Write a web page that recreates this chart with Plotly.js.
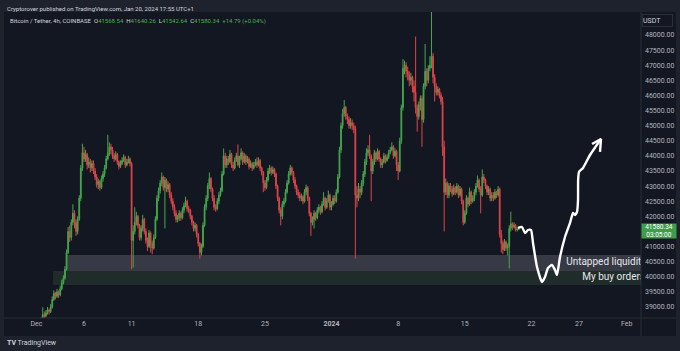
<!DOCTYPE html>
<html>
<head>
<meta charset="utf-8">
<script src="https://cdn.plot.ly/plotly-3.0.1.min.js"></script>
<style>
html,body{margin:0;padding:0;background:#1e222d;}
#chart{width:680px;height:351px;}
</style>
</head>
<body>
<div id="chart"></div>
<script>
// ---- DATA: BTC/USDT 4h candles, Dec 1 2023 00:00 -> Jan 20 2024 16:00 ----
const firstBar = Date.UTC(2023, 11, 1, 0, 0);
const barHours = 4;

const opens = [
37720,37800,37900,38200,38500,38750,
38700,38800,38900,38850,39000,39250,
39450,39350,39500,39400,39600,39800,
39950,40250,40800,41500,41300,41800,
42100,41800,41500,41900,42600,43600,
44100,43900,44050,43700,43800,43600,
43750,43500,43300,43050,43150,42950,
43250,43400,43600,43900,44100,44300,
44200,44000,43900,44050,43800,43650,
43750,43850,43950,43700,43800,43900,
43750,41200,41500,41800,42000,41700,
41300,41600,41900,41500,41200,41000,
41450,41100,40950,41300,41900,42600,
42850,43100,43300,42950,43200,42900,
43050,42700,42500,42300,42100,41900,
41950,42100,41950,42200,42350,42500,
42250,42200,42000,41800,41600,41700,
41400,41100,40800,41000,41700,42300,
42600,43000,43250,42900,42600,42300,
42250,42500,42700,42850,43400,44000,
43700,43900,43800,44050,43700,43600,
43850,44000,43700,43900,44100,43800,
44000,43800,43900,43650,43750,43600,
43700,43800,43700,43850,43600,43450,
43100,42950,43200,43500,43600,43450,
43550,43400,43000,42600,42200,42000,
42400,42500,42800,43100,43400,43600,
43450,43200,43000,42800,42700,42600,
42650,42500,42800,42950,42600,42100,
41800,41900,42100,41950,42200,42300,
42150,42400,42600,42300,42500,42700,
42300,42400,42600,42500,42800,43300,
44200,45000,45400,45600,45300,45200,
45000,45100,45000,44900,42700,42600,
42900,42800,43100,43400,43800,44100,
44200,44000,43500,43800,44100,43900,
44150,43900,43700,43800,44000,43850,
43950,44100,44200,44300,44000,44150,
43700,43500,44500,45600,46900,47000,
46800,46700,46500,46600,46300,46100,
45600,45300,45700,45900,45200,46300,
46800,46500,46900,47000,47300,46600,
46300,46100,46200,46000,45800,44300,
42800,43100,42700,43000,42900,42750,
42950,42800,43000,42700,42900,42500,
41800,42100,42600,42400,42800,42500,
42600,42800,43000,43200,42900,42700,
43300,43200,43000,42800,42900,42600,
42700,42600,42800,42700,42900,41400,
41100,40900,41150,40950,41000,41600,
41750,41650,41700,41550,41568.54
];

const highs = [
37900,38050,38300,38650,38990,38850,
38900,39000,38950,39100,39350,39550,
39500,39600,39550,39700,39900,40050,
40350,40900,41650,41700,41900,42400,
42200,41900,42000,42700,43700,44400,
44300,44200,44100,43950,43900,43850,
43850,43600,43400,43250,43200,43350,
43500,43700,44000,44700,44450,44400,
44300,44100,44150,44100,43850,43850,
43950,44050,44000,43900,44000,43950,
43800,41700,42300,42150,42050,41750,
41700,42050,41950,41600,41300,41550,
41500,41200,41400,42000,42700,42950,
43200,43450,43350,43300,43250,43150,
43100,42800,42600,42400,42200,42050,
42200,42150,42300,42450,42650,42550,
42350,42250,42050,41850,41800,41750,
41450,41150,41100,41800,42400,42700,
43100,43450,43300,42950,42700,42400,
42600,42800,42950,43500,44250,44100,
44000,44000,44200,44100,43800,43950,
44100,44380,44000,44250,44150,44100,
44050,44000,43950,43850,43800,43800,
43900,43950,43950,43900,43650,43500,
43200,43300,43600,43700,43650,43650,
43600,43450,43050,42650,42300,42500,
42600,42900,43200,43500,43700,43650,
43500,43300,43050,42900,42800,42750,
42700,42900,43050,43000,42650,42150,
42000,42200,42150,42300,42400,42350,
42500,42800,42650,42600,42850,42750,
42500,42700,42700,42900,43400,44300,
45100,45550,45850,45650,45400,45300,
45250,45200,45100,45000,43000,43100,
43000,43200,43500,43900,44250,44350,
44700,44050,43900,44200,44150,44250,
44200,43950,43900,44100,44050,44050,
44200,44300,44450,44350,44250,44200,
43800,44600,45700,47200,47150,47100,
46950,46800,46750,46650,46500,47950,
45700,45800,46000,46000,46400,47700,
46900,47000,47300,49000,47400,46700,
46400,46300,46250,46100,45950,44500,
43250,43150,43100,43100,43000,43050,
43000,43100,43050,43000,42950,42550,
42200,42700,42650,42950,42850,42700,
42900,43100,43350,43250,43000,43550,
43400,43250,43050,43000,42950,42800,
42800,42900,42850,43000,42950,41550,
41200,41250,41200,41100,41700,42150,
41800,41800,41750,41650,41640.26
];

const lows = [
37650,37750,37850,38150,38450,38600,
38650,38750,38750,38800,38950,39200,
39250,39300,39300,39350,39550,39750,
39900,40200,40750,41150,41200,41700,
41600,41350,41400,41850,42500,43500,
43800,43800,43550,43600,43450,43500,
43400,43200,42950,42900,42850,42900,
43150,43300,43550,43850,44000,44050,
43900,43800,43850,43700,43550,43600,
43700,43800,43600,43650,43750,43650,
40250,40300,41400,41700,41600,41200,
41200,41500,41400,41100,40850,40950,
40800,40750,40900,41250,41850,42500,
42750,43000,42850,41600,42800,42800,
42600,42400,42200,42000,41800,41800,
41850,41850,41900,42100,42300,42150,
42100,41900,41700,41500,41500,41300,
41000,40600,40700,40950,41650,42200,
42500,42900,42800,42500,42200,42150,
42200,42400,42650,42800,43350,43600,
43600,43700,43750,43600,43500,43550,
43800,43650,43600,43850,43700,43750,
43700,43750,43550,43600,43500,43550,
43650,43600,43650,43500,43350,42800,
42850,42900,43150,43400,43350,43400,
43300,42900,42500,42100,41700,41900,
42300,42450,42750,43050,43350,43350,
43100,42900,42700,42600,42500,42500,
42400,42450,42700,42500,42000,41350,
41700,41600,41850,41900,42100,42050,
42100,42350,42200,42250,42450,42200,
42200,42350,42400,42450,42750,43250,
44100,44900,45300,45200,45050,44900,
44900,44850,44750,40600,42300,42500,
42600,42700,43000,43300,43700,44000,
43900,42500,43400,43700,43800,43850,
43800,43600,43600,43750,43750,43800,
43900,44050,44150,43900,43950,43500,
43200,43450,44400,45500,46700,46600,
46500,46300,46350,46100,45800,45400,
44800,45200,45500,44300,45100,46200,
46300,46400,46800,46900,46400,45800,
46000,46000,45900,45700,44000,41500,
42700,42600,42600,42800,42650,42700,
42700,42750,42600,42650,42400,41700,
41750,42050,42300,42350,42400,42450,
42500,42700,42950,42800,42100,42650,
43100,42900,42700,42700,42500,42500,
42500,42550,42600,42650,41300,40800,
40750,40850,40850,40700,40280,41500,
41550,41600,41500,41500,41542.64
];

const closes = [
37800,37900,38200,38500,38750,38700,
38800,38900,38850,39000,39250,39450,
39350,39500,39400,39600,39800,39950,
40250,40800,41500,41300,41800,42100,
41800,41500,41900,42600,43600,44100,
43900,44050,43700,43800,43600,43750,
43500,43300,43050,43150,42950,43250,
43400,43600,43900,44100,44300,44200,
44000,43900,44050,43800,43650,43750,
43850,43950,43700,43800,43900,43750,
41200,41500,41800,42000,41700,41300,
41600,41900,41500,41200,41000,41450,
41100,40950,41300,41900,42600,42850,
43100,43300,42950,43200,42900,43050,
42700,42500,42300,42100,41900,41950,
42100,41950,42200,42350,42500,42250,
42200,42000,41800,41600,41700,41400,
41100,40800,41000,41700,42300,42600,
43000,43250,42900,42600,42300,42250,
42500,42700,42850,43400,44000,43700,
43900,43800,44050,43700,43600,43850,
44000,43700,43900,44100,43800,44000,
43800,43900,43650,43750,43600,43700,
43800,43700,43850,43600,43450,43100,
42950,43200,43500,43600,43450,43550,
43400,43000,42600,42200,42000,42400,
42500,42800,43100,43400,43600,43450,
43200,43000,42800,42700,42600,42650,
42500,42800,42950,42600,42100,41800,
41900,42100,41950,42200,42300,42150,
42400,42600,42300,42500,42700,42300,
42400,42600,42500,42800,43300,44200,
45000,45400,45600,45300,45200,45000,
45100,45000,44900,42700,42600,42900,
42800,43100,43400,43800,44100,44200,
44000,43500,43800,44100,43900,44150,
43900,43700,43800,44000,43850,43950,
44100,44200,44300,44000,44150,43700,
43500,44500,45600,46900,47000,46800,
46700,46500,46600,46300,46100,45600,
45300,45700,45900,45200,46300,46800,
46500,46900,47000,47300,46600,46300,
46100,46200,46000,45800,44300,42800,
43100,42700,43000,42900,42750,42950,
42800,43000,42700,42900,42500,41800,
42100,42600,42400,42800,42500,42600,
42800,43000,43200,42900,42700,43300,
43200,43000,42800,42900,42600,42700,
42600,42800,42700,42900,41400,41100,
40900,41150,40950,41000,41600,41750,
41650,41700,41550,41565.55,41580.34
];

// x-axis tick labels
const tickDates = ['2023-12-01','2023-12-06','2023-12-11','2023-12-18','2023-12-25','2024-01-01','2024-01-08','2024-01-15','2024-01-22','2024-01-27','2024-02-01'];
const tickLabels = ['Dec','6','11','18','25','<b>2024</b>','8','15','22','27','Feb'];
// price-axis tick values
const priceTicks = [39000,39500,40000,40500,41000,42000,42500,43000,43500,44000,44500,45000,45500,46000,46500,47000,47500,48000];

// zones drawn on the chart (price bands)
const liquidityZone = {from:'2023-12-04 05:00', low:40191, high:40720, label:'Untapped liquidity'};
const buyZone = {from:'2023-12-02 18:00', low:39727, high:40191, label:'My buy orders'};

// hand-drawn forecast path (time, price)
const drawX = ['2024-01-20 14:07','2024-01-21 00:11','2024-01-21 07:47','2024-01-21 15:20','2024-01-21 22:54','2024-01-22 03:56','2024-01-22 14:01','2024-01-23 02:37','2024-01-23 10:11','2024-01-23 17:44','2024-01-24 03:50','2024-01-24 11:24','2024-01-24 16:26','2024-01-25 00:00','2024-01-25 12:36','2024-01-26 01:12','2024-01-26 08:47','2024-01-26 13:49','2024-01-26 18:52','2024-01-26 21:23','2024-01-26 21:40','2024-01-26 23:54','2024-01-27 09:59','2024-01-28 03:37','2024-01-29 07:22'];
const drawY = [41614,41647,41448,41547,41547,41117,40323,39827,39992,40290,40390,40224,40058,40654,41316,41779,42110,42044,42143,42540,43202,43467,43599,44029,44559];
const headX = ['2024-01-28 08:40','2024-01-29 07:22','2024-01-29 04:51'];
const headY = [44393,44559,44135];

const lastPrice = '41580.34';
const countdown = '03:05:00';

// ---- build ----
const times = opens.map((_, i) => new Date(firstBar + i * barHours * 3600e3).toISOString().slice(0,16).replace('T',' '));

const UP = '#43a84b', DOWN = '#e0444a';
const FONT = 'Roboto, "Liberation Sans", sans-serif';
const xRange = ['2023-11-27 14:20','2024-02-02 12:10'];
const yRange = [38635, 48761];

const traces = [
  {
    type:'candlestick', x:times, open:opens, high:highs, low:lows, close:closes,
    increasing:{line:{color:UP,width:1}, fillcolor:UP},
    decreasing:{line:{color:DOWN,width:1}, fillcolor:DOWN},
    whiskerwidth:0, hoverinfo:'skip', showlegend:false
  },
  {
    type:'scatter', mode:'lines', x:drawX, y:drawY,
    line:{color:'#ffffff', width:2.4, shape:'spline', smoothing:0.5},
    hoverinfo:'skip', showlegend:false
  },
  {
    type:'scatter', mode:'lines', x:headX, y:headY,
    line:{color:'#ffffff', width:2.4}, hoverinfo:'skip', showlegend:false
  },
  {
    type:'scatter', mode:'text',
    x:['2024-01-25 15:30','2024-01-27 08:00'],
    y:[(liquidityZone.low+liquidityZone.high)/2,(buyZone.low+buyZone.high)/2],
    text:[liquidityZone.label, buyZone.label],
    textposition:'middle right', cliponaxis:true,
    textfont:{family:FONT, size:10, color:'#e6e8ee'},
    hoverinfo:'skip', showlegend:false
  }
];

const px2x = p => (p - 4) / 637;
const px2y = p => (318 - p) / 306;

const layout = {
  width:680, height:351,
  margin:{l:4, r:39, t:12, b:33, pad:0},
  paper_bgcolor:'#1e222d', plot_bgcolor:'#131722',
  font:{family:FONT, color:'#b2b5be'},
  showlegend:false,
  xaxis:{
    type:'date', range:xRange, tickvals:tickDates, ticktext:tickLabels,
    showgrid:false, zeroline:false, showline:false, ticks:'',
    tickfont:{family:FONT, size:7, color:'#b2b5be'},
    rangeslider:{visible:false}, fixedrange:true
  },
  yaxis:{
    side:'right', range:yRange, tickvals:priceTicks, tickformat:'.2f',
    showgrid:false, zeroline:false, showline:false, ticks:'',
    ticklabelstandoff:3,
    tickfont:{family:FONT, size:7, color:'#b2b5be'}, fixedrange:true
  },
  shapes:[
    {type:'rect', xref:'paper', yref:'paper', x0:0, x1:px2x(676), y0:px2y(336), y1:1, fillcolor:'#131722', line:{width:0}, layer:'below'},
    {type:'line', xref:'paper', yref:'paper', x0:1, x1:1, y0:px2y(336), y1:1, line:{color:'#2a2e39', width:1}},
    {type:'line', xref:'paper', yref:'paper', x0:0, x1:px2x(676), y0:0, y1:0, line:{color:'#2a2e39', width:1}},
    {type:'rect', xref:'x', yref:'y', x0:liquidityZone.from, x1:xRange[1], y0:liquidityZone.low, y1:liquidityZone.high, fillcolor:'#373a45', line:{width:0}, layer:'below'},
    {type:'rect', xref:'x', yref:'y', x0:buyZone.from, x1:xRange[1], y0:buyZone.low, y1:buyZone.high, fillcolor:'#1f2c29', line:{width:0}, layer:'below'}
  ],
  annotations:[
    {xref:'paper', yref:'paper', x:px2x(5), y:px2y(8), xanchor:'left', yanchor:'middle', showarrow:false,
     text:'Cryptorover published on TradingView.com, Jan 20, 2024 17:55 UTC+1', font:{family:FONT, size:6, color:'#d1d4dc'}},
    {xref:'paper', yref:'paper', x:px2x(8), y:px2y(21), xanchor:'left', yanchor:'middle', showarrow:false,
     text:'Bitcoin / Tether, 4h, COINBASE  O<span style="color:#4caf50">41568.54</span>  H<span style="color:#4caf50">41640.26</span>  L<span style="color:#4caf50">41542.64</span>  C<span style="color:#4caf50">41580.34</span>  <span style="color:#4caf50">+14.79 (+0.04%)</span>',
     font:{family:FONT, size:6, color:'#d1d4dc'}},
    {xref:'paper', yref:'paper', x:px2x(642), y:px2y(20.5), xanchor:'left', yanchor:'middle', showarrow:false,
     text:'USDT', align:'left', width:29, height:11, bordercolor:'#2a2e39', borderwidth:1, borderpad:0,
     font:{family:FONT, size:7, color:'#d1d4dc'}},
    {xref:'paper', yref:'paper', x:1, y:px2y(231), xanchor:'left', yanchor:'middle', showarrow:false,
     text:lastPrice + '<br>' + countdown, align:'center', width:34, height:14, bgcolor:'#3e9e4b', borderpad:0,
     font:{family:FONT, size:6.5, color:'#ffffff'}},
    {xref:'paper', yref:'paper', x:px2x(5), y:px2y(343), xanchor:'left', yanchor:'middle', showarrow:false,
     text:'<b>TV</b> TradingView', font:{family:FONT, size:7, color:'#d1d4dc'}}
  ]
};

Plotly.newPlot('chart', traces, layout, {staticPlot:true, displayModeBar:false});
</script>
</body>
</html>
